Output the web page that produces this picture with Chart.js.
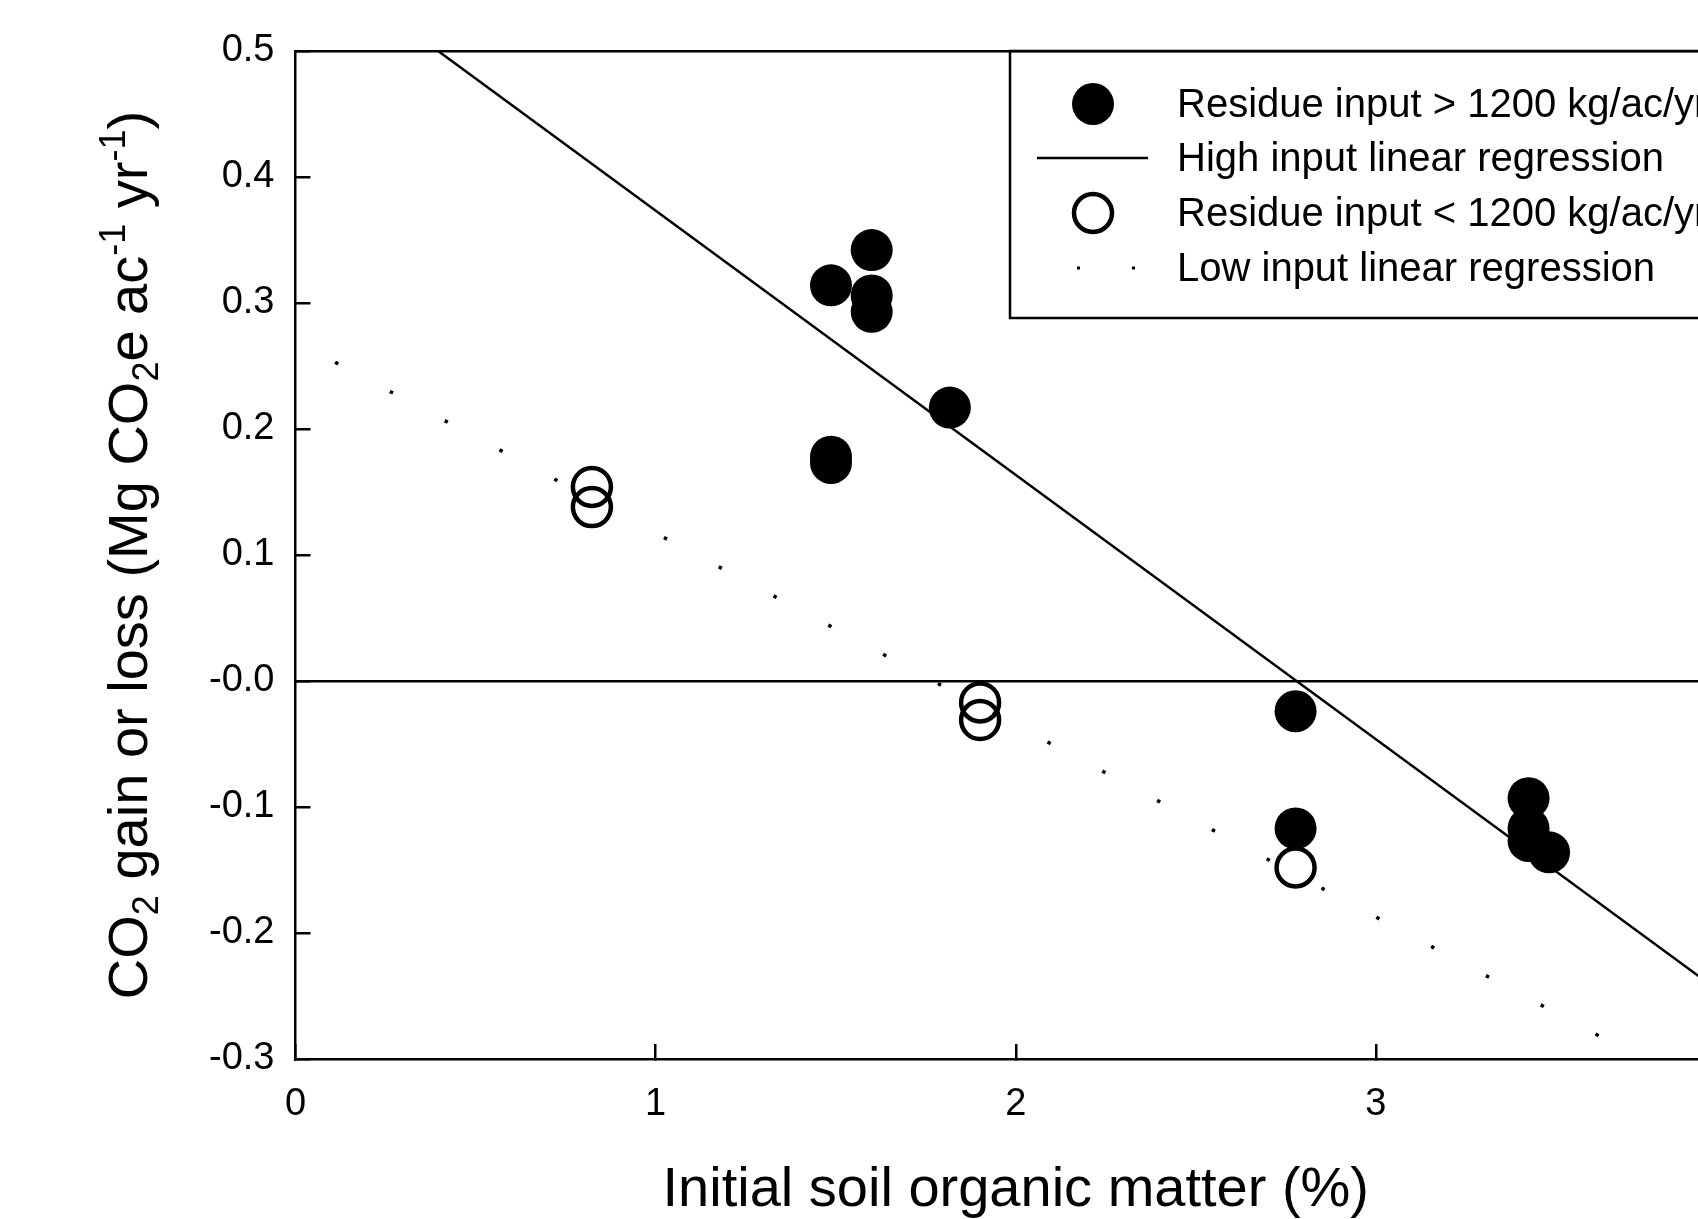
<html lang="en">
<head>
  <meta charset="UTF-8">
  <title>CO2 gain or loss vs initial soil organic matter</title>
  <style>
    html, body { margin: 0; padding: 0; overflow: hidden; background: white; }
    #wrap { width: 1760px; height: 1219px; }
  </style>
  <script src="https://cdn.jsdelivr.net/npm/chart.js@4.4.0/dist/chart.umd.min.js"></script>
</head>
<body>
  <div id="wrap"><canvas id="scatter" width="1760" height="1219"></canvas></div>
  <script>
    // residue input > 1200 kg/ac/yr (filled circles)
    const highX = [1.487, 1.600, 1.600, 1.600, 1.817, 1.487, 1.487, 2.777, 2.777, 3.424, 3.424, 3.424, 3.481]
    const highY = [0.314, 0.342, 0.306, 0.293, 0.217, 0.178, 0.173, -0.024, -0.117, -0.093, -0.117, -0.127, -0.136]
    // residue input < 1200 kg/ac/yr (open circles)
    const lowX = [0.823, 0.823, 1.901, 1.901, 2.777]
    const lowY = [0.154, 0.138, -0.017, -0.031, -0.148]
    // regression lines, read at their ends
    const highFitX = [0.396, 4.0]
    const highFitY = [0.5, -0.256]
    const lowFitX = [0.11, 3.74]
    const lowFitY = [0.253, -0.30]

    const legendLabels = [
      "Residue input > 1200 kg/ac/yr",
      "High input linear regression",
      "Residue input < 1200 kg/ac/yr",
      "Low input linear regression"
    ]
    const xTitle = "Initial soil organic matter (%)"
    // [text, -1 = subscript, 1 = superscript]
    const yTitleParts = [
      ["CO", 0], ["2", -1], [" gain or loss (Mg CO", 0], ["2", -1],
      ["e ac", 0], ["-1", 1], [" yr", 0], ["-1", 1], [")", 0]
    ]

    const FONT = "'Liberation Sans', Arial, sans-serif"
    Chart.defaults.font.family = FONT
    Chart.defaults.color = "black"

    const pts = (xs, ys) => xs.map((x, i) => ({ x, y: ys[i] }))
    const near = (a, b) => Math.abs(a - b) < 1e-6
    const noPad = (s) => { s.paddingLeft = 0; s.paddingRight = 0; s.paddingTop = 0; s.paddingBottom = 0 }

    const yTitlePlugin = {
      id: "yTitle",
      afterDraw(chart) {
        const ctx = chart.ctx
        const area = chart.chartArea
        const big = "56px " + FONT
        const small = "36px " + FONT
        ctx.save()
        let total = 0
        for (const [t, k] of yTitleParts) {
          ctx.font = k ? small : big
          total += ctx.measureText(t).width
        }
        ctx.translate(147, (area.top + area.bottom) / 2)
        ctx.rotate(-Math.PI / 2)
        ctx.fillStyle = "black"
        ctx.textBaseline = "alphabetic"
        let x = -total / 2
        for (const [t, k] of yTitleParts) {
          ctx.font = k ? small : big
          const dy = k === -1 ? 11 : (k === 1 ? -22 : 0)
          ctx.fillText(t, x, dy)
          x += ctx.measureText(t).width
        }
        ctx.restore()
      }
    }

    const boxLegend = {
      id: "boxLegend",
      afterDraw(chart) {
        const ctx = chart.ctx
        const ds = chart.data.datasets
        const left = 1010, top = 51, bottom = 318
        const mx = 1093, tx = 1177
        const rows = [104, 158, 213, 268]
        ctx.save()
        ctx.strokeStyle = "black"
        ctx.lineWidth = 2.5
        ctx.strokeRect(left, top, chart.width + 20 - left, bottom - top)

        // filled marker
        ctx.beginPath()
        ctx.arc(mx, rows[0], ds[0].pointRadius, 0, Math.PI * 2)
        ctx.fillStyle = ds[0].pointBackgroundColor
        ctx.fill()
        // solid line
        ctx.beginPath()
        ctx.moveTo(1037, rows[1])
        ctx.lineTo(1148, rows[1])
        ctx.lineWidth = ds[2].borderWidth
        ctx.stroke()
        // open marker
        ctx.beginPath()
        ctx.arc(mx, rows[2], ds[1].pointRadius, 0, Math.PI * 2)
        ctx.lineWidth = ds[1].pointBorderWidth
        ctx.stroke()
        // dotted sample
        ctx.fillStyle = "black"
        ctx.fillRect(1077, rows[3] - 1.5, 3, 3)
        ctx.fillRect(1132, rows[3] - 1.5, 3, 3)

        ctx.font = "40px " + FONT
        ctx.textBaseline = "middle"
        ctx.textAlign = "left"
        legendLabels.forEach((t, i) => ctx.fillText(t, tx, rows[i] + 2))
        ctx.restore()
      }
    }

    new Chart(document.getElementById("scatter"), {
      type: "scatter",
      data: {
        datasets: [
          {
            label: legendLabels[0],
            data: pts(highX, highY),
            pointRadius: 21,
            pointBackgroundColor: "black",
            pointBorderWidth: 0,
            pointBorderColor: "black"
          },
          {
            label: legendLabels[2],
            data: pts(lowX, lowY),
            pointRadius: 19,
            pointBackgroundColor: "rgba(0,0,0,0)",
            pointBorderWidth: 4.5,
            pointBorderColor: "black"
          },
          {
            label: legendLabels[1],
            type: "line",
            data: pts(highFitX, highFitY),
            borderColor: "black",
            borderWidth: 2.5,
            pointRadius: 0,
            fill: false
          },
          {
            label: legendLabels[3],
            type: "line",
            data: pts(lowFitX, lowFitY),
            borderColor: "black",
            borderWidth: 3.5,
            borderDash: [3.5, 58.6],
            borderCapStyle: "butt",
            pointRadius: 0,
            fill: false
          }
        ]
      },
      options: {
        responsive: false,
        devicePixelRatio: 1,
        animation: false,
        events: [],
        layout: { padding: { left: 0, top: 51, right: 24, bottom: 0 } },
        plugins: {
          legend: { display: false },
          tooltip: { enabled: false }
        },
        scales: {
          x: {
            type: "linear",
            min: 0,
            max: 4,
            afterFit: (s) => { s.height = 160; noPad(s) },
            border: { display: true, color: "black", width: 2.5 },
            grid: { drawOnChartArea: false, drawTicks: true, tickLength: -15, color: "black", lineWidth: 2.5 },
            ticks: { stepSize: 1, padding: 38, font: { size: 38 }, color: "black" },
            title: {
              display: true,
              text: xTitle,
              font: { size: 56, lineHeight: 1 },
              color: "black",
              padding: { top: 0, bottom: 0 }
            }
          },
          y: {
            min: -0.3,
            max: 0.5,
            afterFit: (s) => { s.width = 295.5; noPad(s) },
            border: { display: true, color: "black", width: 2.5 },
            grid: {
              drawOnChartArea: true,
              drawTicks: true,
              tickLength: -15,
              lineWidth: 2.5,
              tickColor: "black",
              color: (c) => (c.tick && (near(c.tick.value, 0) || near(c.tick.value, 0.5))) ? "black" : "rgba(0,0,0,0)"
            },
            ticks: {
              stepSize: 0.1,
              padding: 36,
              font: { size: 38 },
              color: "black",
              callback: (v) => near(v, 0) ? "-0.0" : v.toFixed(1)
            }
          }
        }
      },
      plugins: [yTitlePlugin, boxLegend]
    })
  </script>
</body>
</html>
